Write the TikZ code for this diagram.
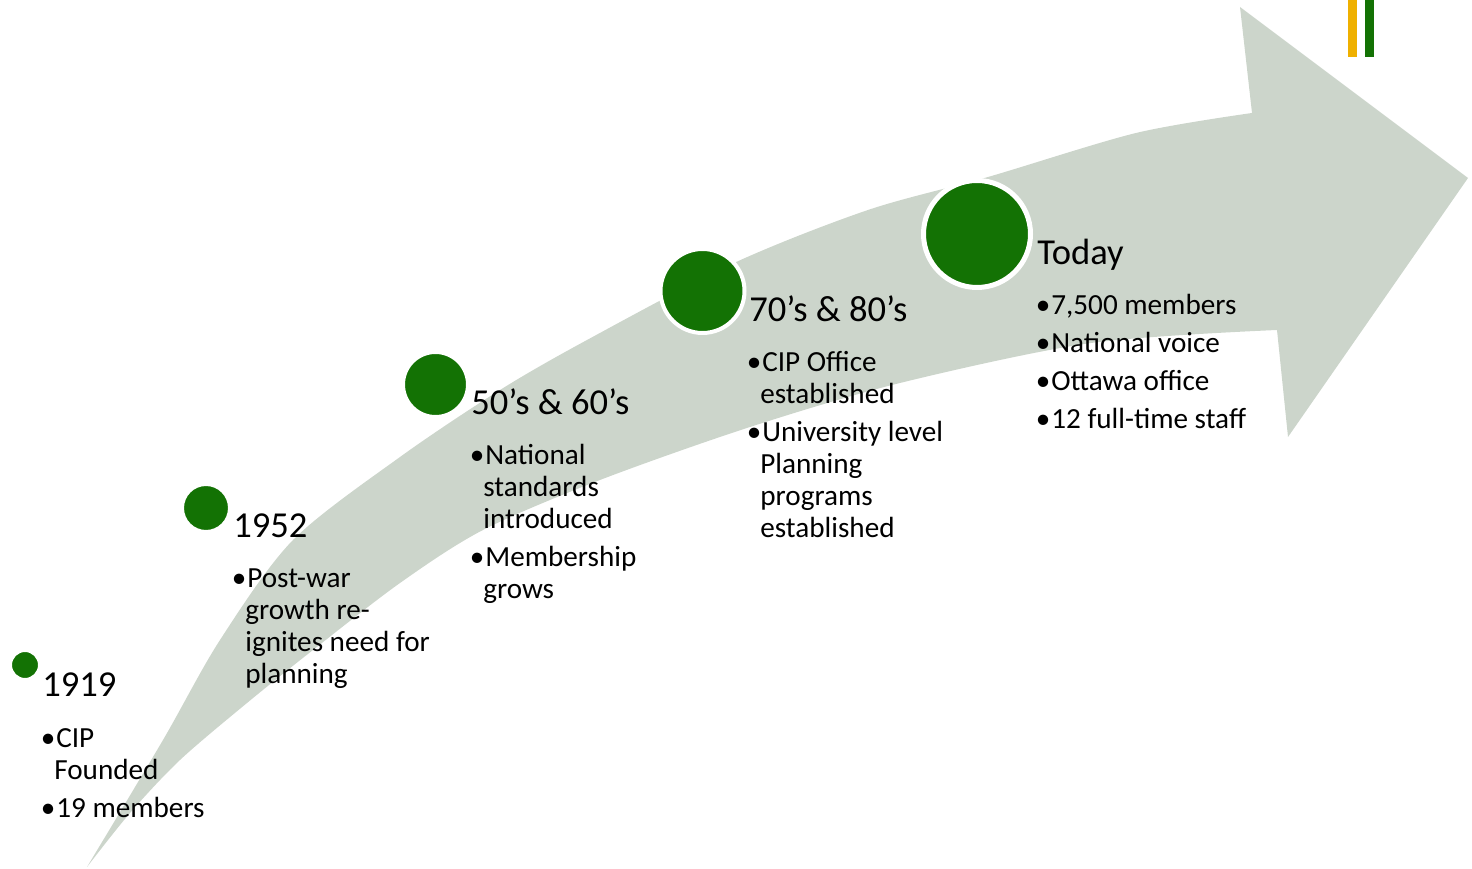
\documentclass[tikz,border=0pt]{standalone}
\usepackage{fontspec}
\setmainfont{Carlito}
\usepackage{tikz}
\usetikzlibrary{positioning}
\definecolor{cipgreen}{RGB}{19,114,4}
\definecolor{cipgrey}{RGB}{204,213,203}
\definecolor{cipgold}{RGB}{239,176,0}
\newcommand{\bitem}{\makebox[0.24cm][l]{\hspace*{-0.07cm}\textbullet}}
\newcommand{\bcont}{\hspace*{0.2cm}}

\begin{document}
\begin{tikzpicture}[
        dot/.style={circle, fill=cipgreen, draw=white, inner sep=0pt},
        era/.style={anchor=base west, inner sep=0pt, font=\fontsize{20.8}{24}\selectfont},
        facts/.style={anchor=base west, inner sep=0pt, text width=6cm, align=flush left,
                      font=\fontsize{16.6}{18.2}\selectfont}
    ]
        \useasboundingbox (0,0) rectangle (29.44,17.38);

        % the big curved arrow
        \fill[cipgrey] plot[smooth, tension=0.5] coordinates {(1.74,0.04) (3.26,2.58) (4.40,4.58) (5.86,6.58) (8.00,8.24) (10.00,9.58) (11.74,10.58) (14.68,12.12) (17.36,13.18) (19.76,13.84) (22.72,14.72) (25.04,15.12)}
            -- (24.80,17.24) -- (29.36,13.82) -- (25.76,8.64)
            -- plot[smooth, tension=0.5] coordinates {(25.54,10.78) (21.82,10.52) (18.00,9.72) (15.00,8.84) (12.00,7.78) (9.66,6.78) (8.00,5.72) (6.26,4.38) (4.94,3.32) (3.60,2.18) (2.60,1.12) (1.74,0.04)}
            -- cycle;

        % corner bars
        \fill[cipgold]  (26.96,16.24) rectangle (27.14,17.38);
        \fill[cipgreen] (27.30,16.24) rectangle (27.48,17.38);

        \node[dot, line width=0.04cm, minimum size=0.56cm]  (c_1919)  at (0.50,4.08)   {};
        \node[dot, line width=0.06cm, minimum size=0.94cm]  (c_1952)  at (4.12,7.22)   {};
        \node[dot, line width=0.06cm, minimum size=1.28cm]  (c_5060)  at (8.71,9.69)   {};
        \node[dot, line width=0.08cm, minimum size=1.68cm]  (c_7080)  at (14.05,11.56) {};
        \node[dot, line width=0.10cm, minimum size=2.14cm]  (c_today) at (19.54,12.70) {};

        \node[era]   (y_1919)  at (0.84,3.44)   {1919};
        \node[facts] (b_1919)  at (0.88,2.42)   {\bitem CIP\\ \bcont Founded\\[0.12cm] \bitem 19 members};

        \node[era]   (y_1952)  at (4.66,6.62)   {1952};
        \node[facts] (b_1952)  at (4.70,5.62)   {\bitem Post-war\\ \bcont growth re-\\ \bcont ignites need for\\ \bcont planning};

        \node[era]   (y_5060)  at (9.42,9.08)   {50’s \& 60’s};
        \node[facts] (b_5060)  at (9.46,8.08)   {\bitem National\\ \bcont standards\\ \bcont introduced\\[0.12cm] \bitem Membership\\ \bcont grows};

        \node[era]   (y_7080)  at (14.98,10.94) {70’s \& 80’s};
        \node[facts] (b_7080)  at (15.00,9.94)  {\bitem CIP Office\\ \bcont established\\[0.12cm] \bitem University level\\ \bcont Planning\\ \bcont programs\\ \bcont established};

        \node[era]   (y_today) at (20.74,12.08) {Today};
        \node[facts] (b_today) at (20.78,11.08) {\bitem 7,500 members\\[0.12cm] \bitem National voice\\[0.12cm] \bitem Ottawa office\\[0.12cm] \bitem 12 full-time staff};
    \end{tikzpicture}
\end{document}
